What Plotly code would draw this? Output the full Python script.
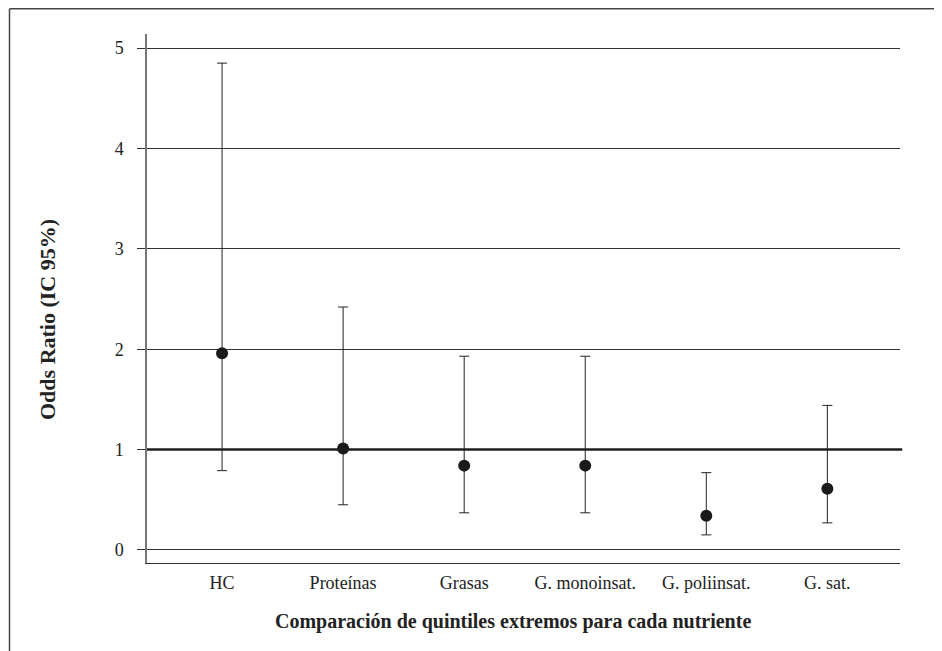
import plotly.graph_objects as go

categories = ["HC", "Proteínas", "Grasas", "G. monoinsat.", "G. poliinsat.", "G. sat."]
odds_ratio = [1.96, 1.01, 0.84, 0.84, 0.34, 0.61]
ci_lower = [0.79, 0.45, 0.37, 0.37, 0.15, 0.27]
ci_upper = [4.85, 2.42, 1.93, 1.93, 0.77, 1.44]
y_ticks = [0, 1, 2, 3, 4, 5]
reference_value = 1

err_plus = [u - o for u, o in zip(ci_upper, odds_ratio)]
err_minus = [o - l for o, l in zip(odds_ratio, ci_lower)]

FONT = "Liberation Serif, Times New Roman, serif"
# page has an 8px body margin; figure sized to fill the rest of the window
W, H = 934, 643
ML, MR, MT, MB = 139, 42, 26, 88
pw = W - ML - MR
ph = H - MT - MB

fig = go.Figure()
fig.add_trace(go.Scatter(
    x=list(range(len(categories))),
    y=odds_ratio,
    mode="markers",
    marker=dict(size=12, color="#1a1a1a"),
    error_y=dict(type="data", symmetric=False, array=err_plus, arrayminus=err_minus,
                 color="#222222", thickness=1, width=5),
    showlegend=False,
    hoverinfo="skip",
))

# reference line at OR = 1
fig.add_shape(type="line", xref="paper", yref="y", x0=0, x1=1.003,
              y0=reference_value, y1=reference_value,
              line=dict(color="#1f1f1f", width=2.5), layer="above")

# outer frame (top and left)
fx = (1.5 - ML) / pw
fy_top = 1 + (MT - 0.8) / ph
fy_bot = -(MB + 5) / ph
fig.add_shape(type="line", xref="paper", yref="paper", x0=fx, x1=1 + (MR + 5) / pw,
              y0=fy_top, y1=fy_top, line=dict(color="#444444", width=1.5))
fig.add_shape(type="line", xref="paper", yref="paper", x0=fx, x1=fx,
              y0=fy_top, y1=fy_bot, line=dict(color="#444444", width=1.5))

# axis titles as annotations for exact placement
fig.add_annotation(text="<b>Odds Ratio (IC 95%)</b>", textangle=-90,
                   xref="paper", yref="paper",
                   x=(39 - ML) / pw, y=(ph - (312 - MT)) / ph,
                   xanchor="center", yanchor="middle", showarrow=False,
                   font=dict(size=22, family=FONT, color="#222222"))
fig.add_annotation(text="<b>Comparación de quintiles extremos para cada nutriente</b>",
                   xref="paper", yref="paper",
                   x=(505 - ML) / pw, y=-(613 - (MT + ph)) / ph,
                   xanchor="center", yanchor="middle", showarrow=False,
                   font=dict(size=20, family=FONT, color="#222222"))

fig.update_layout(
    width=W, height=H,
    margin=dict(l=ML, r=MR, t=MT, b=MB),
    paper_bgcolor="white", plot_bgcolor="white",
    font=dict(family=FONT, color="#222222"),
    xaxis=dict(
        range=[-0.62, 5.6],
        tickmode="array",
        tickvals=list(range(len(categories))),
        ticktext=categories,
        showgrid=False, zeroline=False,
        showline=True, linecolor="#333333", linewidth=1,
        ticks="outside", ticklen=3, tickcolor="rgba(0,0,0,0)",
        tickfont=dict(size=18, family=FONT, color="#222222"),
    ),
    yaxis=dict(
        range=[-0.13, 5.14],
        tickmode="array",
        tickvals=y_ticks,
        ticktext=[str(v) for v in y_ticks],
        showgrid=True, gridcolor="#333333", gridwidth=1,
        zeroline=False,
        showline=True, linecolor="#777777", linewidth=1.5,
        ticks="outside", ticklen=8, tickcolor="#333333", tickwidth=1,
        ticklabelstandoff=10,
        tickfont=dict(size=18, family=FONT, color="#222222"),
    ),
)

fig.write_html("out.html")
